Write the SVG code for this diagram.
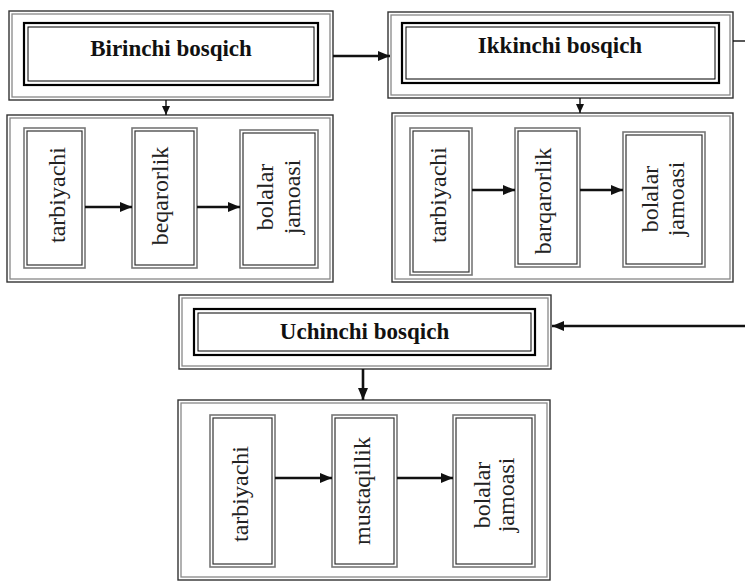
<svg xmlns="http://www.w3.org/2000/svg" width="745" height="583" viewBox="0 0 745 583">
<defs>
<style>
.fo{fill:none;stroke:#333;stroke-width:1.4}
.fi{fill:none;stroke:#888;stroke-width:1.3}
.to{fill:#fff;stroke:#000;stroke-width:2.2}
.ti{fill:none;stroke:#000;stroke-width:1}
.co{fill:#fff;stroke:#777;stroke-width:1.6}
.ci{fill:none;stroke:#333;stroke-width:1.2}
.title{font-family:"Liberation Serif","Times New Roman",serif;font-weight:bold;font-size:23px;fill:#111;text-anchor:middle}
.lbl{font-family:"Liberation Serif","Times New Roman",serif;font-size:24px;fill:#222;text-anchor:middle}
.c{fill:none;stroke:#111;stroke-width:2.6}
.cs{fill:none;stroke:#111;stroke-width:1.4}
</style>
<marker id="ah" markerUnits="userSpaceOnUse" markerWidth="14" markerHeight="12" refX="12" refY="6" orient="auto">
<path d="M0,1 L12,6 L0,11 Z" fill="#111"/>
</marker>
<marker id="ahs" markerUnits="userSpaceOnUse" markerWidth="10" markerHeight="10" refX="9" refY="5" orient="auto">
<path d="M0,1 L9,5 L0,9 Z" fill="#111"/>
</marker>
</defs>
<rect width="745" height="583" fill="#fff"/>

<g id="birinchi">
<rect class="fo" x="9" y="11" width="324" height="89"/>
<rect class="fi" x="12" y="14" width="318" height="83"/>
<rect class="to" x="24" y="23" width="294" height="62"/>
<rect class="ti" x="28" y="27" width="286" height="54"/>
<text class="title" x="171" y="56">Birinchi bosqich</text>
</g>
<g id="birinchi-group">
<rect class="fo" x="7" y="115" width="326" height="167"/>
<rect class="fi" x="10" y="118" width="320" height="161"/>
</g>
<g id="b-tarbiyachi">
<rect class="co" x="24" y="128" width="61" height="140"/>
<rect class="ci" x="27" y="131" width="55" height="134"/>
<text class="lbl" transform="translate(65,195) rotate(-90)">tarbiyachi</text>
</g>
<g id="b-beqarorlik">
<rect class="co" x="132" y="128" width="65" height="140"/>
<rect class="ci" x="135" y="131" width="59" height="134"/>
<text class="lbl" transform="translate(168,196) rotate(-90)">beqarorlik</text>
</g>
<g id="b-jamoa">
<rect class="co" x="240" y="130" width="78" height="138"/>
<rect class="ci" x="243" y="133" width="72" height="132"/>
<text class="lbl" transform="translate(273,197) rotate(-90)">bolalar</text>
<text class="lbl" transform="translate(300,197) rotate(-90)">jamoasi</text>
</g>

<g id="ikkinchi">
<rect class="fo" x="388" y="12" width="345" height="86"/>
<rect class="fi" x="391" y="15" width="339" height="80"/>
<rect class="to" x="402" y="23" width="317" height="60"/>
<rect class="ti" x="406" y="27" width="309" height="52"/>
<text class="title" x="560" y="53">Ikkinchi bosqich</text>
</g>
<g id="ikkinchi-group">
<rect class="fo" x="392" y="113" width="341" height="169"/>
<rect class="fi" x="395" y="116" width="335" height="163"/>
</g>
<g id="i-tarbiyachi">
<rect class="co" x="410" y="128" width="62" height="147"/>
<rect class="ci" x="413" y="131" width="56" height="141"/>
<text class="lbl" transform="translate(446,195) rotate(-90)">tarbiyachi</text>
</g>
<g id="i-barqarorlik">
<rect class="co" x="515" y="128" width="65" height="139"/>
<rect class="ci" x="518" y="131" width="59" height="133"/>
<text class="lbl" transform="translate(551,201) rotate(-90)">barqarorlik</text>
</g>
<g id="i-jamoa">
<rect class="co" x="623" y="132" width="82" height="135"/>
<rect class="ci" x="626" y="135" width="76" height="129"/>
<text class="lbl" transform="translate(658,199) rotate(-90)">bolalar</text>
<text class="lbl" transform="translate(684,199) rotate(-90)">jamoasi</text>
</g>

<g id="uchinchi">
<rect class="fo" x="179" y="295" width="372" height="74"/>
<rect class="fi" x="182" y="298" width="366" height="68"/>
<rect class="to" x="194" y="309" width="341" height="46"/>
<rect class="ti" x="198" y="313" width="333" height="38"/>
<text class="title" x="364.5" y="339">Uchinchi bosqich</text>
</g>
<g id="uchinchi-group">
<rect class="fo" x="178" y="400" width="372" height="180"/>
<rect class="fi" x="181" y="403" width="366" height="174"/>
</g>
<g id="u-tarbiyachi">
<rect class="co" x="210" y="415" width="65" height="152"/>
<rect class="ci" x="213" y="418" width="59" height="146"/>
<text class="lbl" transform="translate(248,494) rotate(-90)">tarbiyachi</text>
</g>
<g id="u-mustaqillik">
<rect class="co" x="332" y="415" width="65" height="152"/>
<rect class="ci" x="335" y="418" width="59" height="146"/>
<text class="lbl" transform="translate(370,491) rotate(-90)">mustaqillik</text>
</g>
<g id="u-jamoa">
<rect class="co" x="453" y="415" width="82" height="152"/>
<rect class="ci" x="456" y="418" width="76" height="146"/>
<text class="lbl" transform="translate(490,495) rotate(-90)">bolalar</text>
<text class="lbl" transform="translate(514,495) rotate(-90)">jamoasi</text>
</g>

<g id="connectors">
<line class="c" x1="333" y1="56" x2="390" y2="56" marker-end="url(#ah)"/>
<line class="cs" x1="166" y1="100" x2="166" y2="115" marker-end="url(#ahs)"/>
<line class="cs" x1="580" y1="98" x2="580" y2="113" marker-end="url(#ahs)"/>
<line class="cs" x1="733" y1="41" x2="745" y2="41"/>
<line class="c" x1="745" y1="326" x2="552" y2="326" marker-end="url(#ah)"/>
<line class="c" x1="363" y1="369" x2="363" y2="400" marker-end="url(#ah)"/>
<line class="c" x1="85" y1="207" x2="132" y2="207" marker-end="url(#ah)"/>
<line class="c" x1="197" y1="207" x2="240" y2="207" marker-end="url(#ah)"/>
<line class="c" x1="472" y1="190" x2="515" y2="190" marker-end="url(#ah)"/>
<line class="c" x1="580" y1="190" x2="623" y2="190" marker-end="url(#ah)"/>
<line class="c" x1="275" y1="478" x2="332" y2="478" marker-end="url(#ah)"/>
<line class="c" x1="397" y1="478" x2="453" y2="478" marker-end="url(#ah)"/>
</g>
</svg>
